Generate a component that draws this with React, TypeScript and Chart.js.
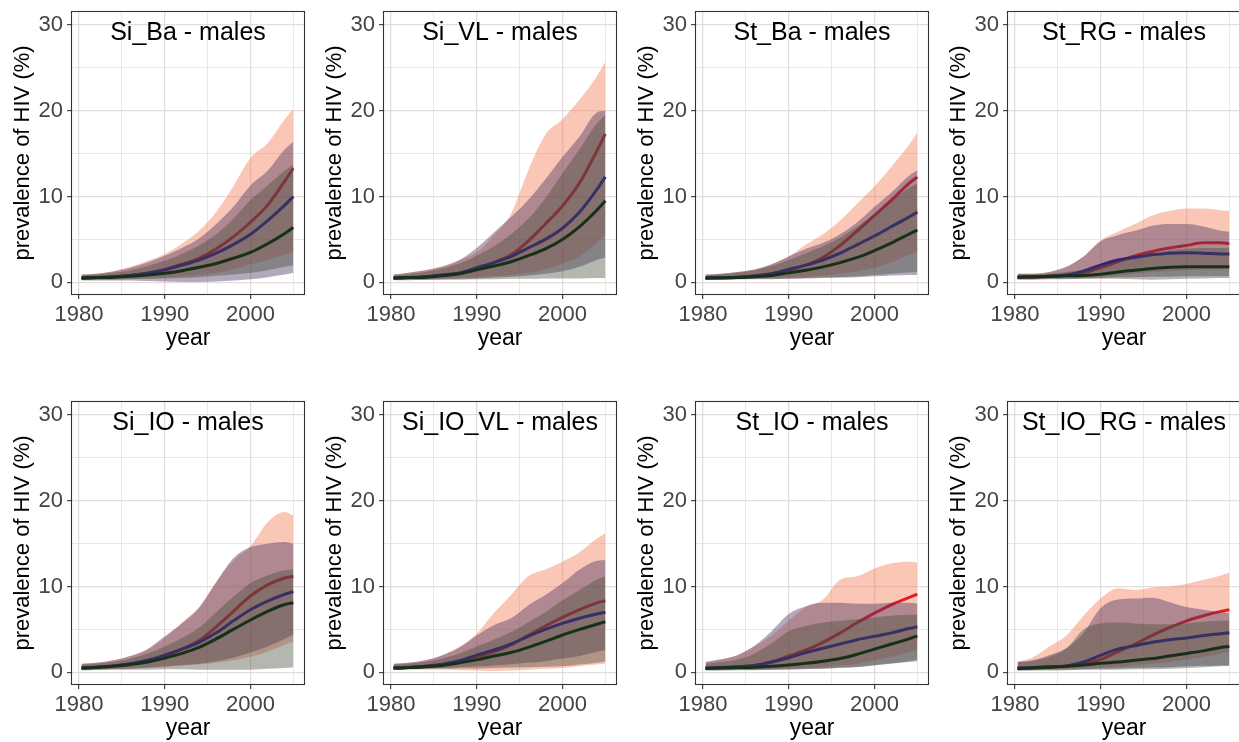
import React, { useEffect, useRef } from 'react';
import { Chart, registerables } from 'chart.js';

Chart.register(...registerables);

// ---------- data ----------
const years = [1980.3, 1982, 1984, 1986, 1988, 1990, 1992, 1994, 1996, 1998, 2000, 2002, 2004, 2005];

const xTickValues = [1980, 1985, 1990, 1995, 2000, 2005];
const xTickLabels = ['1980', '', '1990', '', '2000', ''];
const yTickValues = [0, 5, 10, 15, 20, 25, 30];
const yTickLabels = ['0', '', '10', '', '20', '', '30'];

// Si_Ba
const siBaRed = [0.5, 0.55, 0.65, 0.8, 1.05, 1.5, 2.1, 2.8, 3.9, 5.3, 7.0, 9.0, 11.8, 13.3];
const siBaRedLo = [0.3, 0.3, 0.35, 0.4, 0.45, 0.55, 0.7, 0.85, 1.1, 1.5, 2.1, 2.6, 3.2, 3.6];
const siBaRedHi = [0.9, 1.0, 1.3, 1.8, 2.5, 3.3, 4.5, 6.0, 8.2, 11.2, 14.5, 16.2, 19.0, 20.2];
const siBaBlue = [0.5, 0.55, 0.65, 0.8, 1.05, 1.45, 2.0, 2.6, 3.4, 4.4, 5.6, 7.2, 9.0, 10.0];
const siBaBlueLo = [0.2, 0.2, 0.2, 0.2, 0.15, 0.1, 0.05, 0.05, 0.1, 0.2, 0.35, 0.6, 0.9, 1.1];
const siBaBlueHi = [0.9, 1.0, 1.25, 1.7, 2.3, 3.1, 4.0, 5.1, 6.8, 8.8, 11.3, 13.0, 15.5, 16.4];
const siBaGreen = [0.5, 0.55, 0.6, 0.7, 0.85, 1.05, 1.35, 1.75, 2.2, 2.8, 3.5, 4.5, 5.7, 6.4];
const siBaGreenLo = [0.3, 0.3, 0.3, 0.35, 0.4, 0.45, 0.5, 0.6, 0.75, 0.9, 1.1, 1.4, 1.8, 2.0];
const siBaGreenHi = [0.8, 0.9, 1.1, 1.4, 1.9, 2.5, 3.3, 4.3, 5.6, 7.4, 9.6, 11.3, 13.0, 13.7];

// Si_VL
const siVlRed = [0.5, 0.55, 0.65, 0.85, 1.1, 1.6, 2.3, 3.2, 4.8, 6.8, 8.9, 11.6, 15.3, 17.3];
const siVlRedLo = [0.3, 0.35, 0.35, 0.4, 0.5, 0.6, 0.7, 0.85, 1.1, 1.5, 2.2, 3.0, 4.6, 5.6];
const siVlRedHi = [0.9, 1.1, 1.4, 1.9, 2.6, 3.5, 5.5, 8.0, 13.0, 17.2, 19.0, 21.3, 24.0, 25.7];
const siVlBlue = [0.5, 0.55, 0.65, 0.85, 1.1, 1.7, 2.3, 3.0, 4.0, 5.0, 6.3, 8.2, 10.8, 12.3];
const siVlBlueLo = [0.3, 0.3, 0.3, 0.35, 0.4, 0.45, 0.55, 0.65, 0.8, 1.0, 1.3, 1.8, 2.6, 2.9];
const siVlBlueHi = [0.9, 1.1, 1.4, 1.8, 2.6, 4.0, 5.8, 7.6, 9.6, 12.0, 14.6, 17.0, 19.8, 20.0];
const siVlGreen = [0.5, 0.55, 0.6, 0.75, 1.0, 1.45, 1.9, 2.4, 3.1, 3.9, 5.0, 6.5, 8.4, 9.5];
const siVlGreenLo = [0.25, 0.25, 0.3, 0.3, 0.3, 0.35, 0.35, 0.4, 0.4, 0.45, 0.45, 0.45, 0.5, 0.5];
const siVlGreenHi = [0.8, 0.95, 1.2, 1.6, 2.2, 3.1, 4.2, 5.6, 7.4, 9.8, 12.7, 15.5, 18.5, 19.5];

// St_Ba
const stBaRed = [0.5, 0.55, 0.6, 0.75, 1.0, 1.4, 2.0, 2.9, 4.3, 6.0, 7.8, 9.6, 11.5, 12.3];
const stBaRedLo = [0.35, 0.35, 0.4, 0.45, 0.5, 0.55, 0.65, 0.8, 1.0, 1.3, 1.7, 2.3, 3.2, 3.6];
const stBaRedHi = [0.9, 1.0, 1.2, 1.5, 2.1, 3.0, 4.4, 5.6, 7.2, 9.2, 11.2, 13.5, 16.0, 17.4];
const stBaBlue = [0.5, 0.55, 0.6, 0.75, 1.0, 1.5, 2.0, 2.6, 3.4, 4.4, 5.4, 6.5, 7.6, 8.2];
const stBaBlueLo = [0.3, 0.3, 0.35, 0.35, 0.35, 0.4, 0.45, 0.5, 0.55, 0.6, 0.7, 0.8, 0.85, 0.85];
const stBaBlueHi = [0.9, 1.0, 1.2, 1.5, 2.1, 3.0, 3.9, 4.6, 5.6, 7.0, 8.8, 10.5, 12.4, 13.1];
const stBaGreen = [0.5, 0.5, 0.55, 0.65, 0.8, 1.1, 1.4, 1.8, 2.3, 2.9, 3.7, 4.6, 5.6, 6.1];
const stBaGreenLo = [0.3, 0.3, 0.35, 0.4, 0.4, 0.45, 0.5, 0.55, 0.6, 0.7, 0.85, 1.0, 1.15, 1.2];
const stBaGreenHi = [0.8, 0.9, 1.1, 1.4, 1.9, 2.6, 3.4, 4.2, 5.2, 6.5, 8.0, 9.5, 11.0, 11.5];

// St_RG
const stRgRed = [0.6, 0.6, 0.7, 0.8, 1.1, 1.7, 2.4, 3.1, 3.6, 4.0, 4.3, 4.6, 4.6, 4.5];
const stRgRedLo = [0.4, 0.4, 0.45, 0.5, 0.55, 0.65, 0.8, 1.0, 1.2, 1.3, 1.4, 1.5, 1.5, 1.5];
const stRgRedHi = [1.0, 1.0, 1.2, 1.8, 3.0, 4.9, 5.9, 6.8, 7.8, 8.3, 8.6, 8.6, 8.4, 8.3];
const stRgBlue = [0.6, 0.65, 0.7, 0.85, 1.3, 2.0, 2.6, 2.9, 3.2, 3.4, 3.45, 3.4, 3.3, 3.3];
const stRgBlueLo = [0.35, 0.35, 0.4, 0.4, 0.45, 0.5, 0.55, 0.6, 0.65, 0.65, 0.7, 0.7, 0.7, 0.7];
const stRgBlueHi = [1.0, 1.0, 1.2, 1.8, 3.0, 4.8, 5.5, 6.0, 6.6, 6.8, 6.8, 6.5, 6.0, 5.9];
const stRgGreen = [0.6, 0.65, 0.7, 0.75, 0.8, 0.95, 1.2, 1.4, 1.6, 1.75, 1.8, 1.8, 1.8, 1.8];
const stRgGreenLo = [0.3, 0.3, 0.35, 0.35, 0.4, 0.4, 0.4, 0.35, 0.3, 0.35, 0.4, 0.45, 0.5, 0.5];
const stRgGreenHi = [0.9, 0.9, 1.0, 1.2, 1.5, 2.0, 2.5, 3.0, 3.4, 3.7, 3.9, 4.0, 4.0, 4.0];

// Si_IO
const siIoRed = [0.5, 0.6, 0.75, 0.95, 1.3, 1.9, 2.7, 3.7, 5.3, 7.1, 8.9, 10.2, 11.0, 11.2];
const siIoRedLo = [0.3, 0.3, 0.35, 0.4, 0.5, 0.6, 0.75, 0.9, 1.1, 1.4, 1.8, 2.4, 3.2, 3.6];
const siIoRedHi = [1.0, 1.1, 1.4, 1.9, 2.7, 4.0, 5.8, 7.6, 10.5, 13.0, 14.7, 17.5, 18.7, 18.3];
const siIoBlue = [0.5, 0.6, 0.75, 1.0, 1.4, 2.0, 2.7, 3.5, 4.6, 6.0, 7.3, 8.3, 9.1, 9.4];
const siIoBlueLo = [0.3, 0.35, 0.4, 0.45, 0.55, 0.7, 0.85, 1.0, 1.3, 1.7, 2.3, 3.0, 3.9, 4.4];
const siIoBlueHi = [1.0, 1.1, 1.4, 1.9, 2.7, 4.2, 5.7, 7.5, 10.5, 13.3, 14.6, 15.0, 15.2, 15.0];
const siIoGreen = [0.5, 0.55, 0.7, 0.9, 1.2, 1.65, 2.2, 2.9, 3.9, 5.0, 6.1, 7.1, 7.9, 8.1];
const siIoGreenLo = [0.25, 0.25, 0.3, 0.3, 0.3, 0.35, 0.35, 0.3, 0.3, 0.3, 0.3, 0.4, 0.5, 0.6];
const siIoGreenHi = [0.9, 1.0, 1.2, 1.6, 2.2, 3.0, 4.0, 5.2, 7.0, 8.8, 10.4, 11.3, 11.9, 12.0];

// Si_IO_VL
const siIoVlRed = [0.5, 0.55, 0.7, 0.9, 1.25, 1.8, 2.4, 3.2, 4.3, 5.4, 6.4, 7.3, 8.1, 8.35];
const siIoVlRedLo = [0.3, 0.3, 0.3, 0.3, 0.25, 0.2, 0.15, 0.2, 0.3, 0.4, 0.5, 0.7, 0.9, 1.0];
const siIoVlRedHi = [1.0, 1.1, 1.4, 2.0, 3.0, 4.5, 6.9, 9.0, 11.2, 12.0, 12.9, 14.0, 15.6, 16.2];
const siIoVlBlue = [0.5, 0.55, 0.7, 0.95, 1.35, 2.0, 2.6, 3.3, 4.2, 5.0, 5.7, 6.3, 6.8, 7.0];
const siIoVlBlueLo = [0.4, 0.4, 0.45, 0.5, 0.6, 0.7, 0.8, 0.95, 1.1, 1.3, 1.6, 1.9, 2.4, 2.6];
const siIoVlBlueHi = [1.0, 1.1, 1.4, 2.0, 2.9, 4.3, 5.5, 6.3, 7.8, 9.0, 10.4, 12.0, 13.0, 13.1];
const siIoVlGreen = [0.5, 0.55, 0.65, 0.8, 1.1, 1.45, 1.9, 2.3, 2.9, 3.6, 4.35, 5.0, 5.6, 5.9];
const siIoVlGreenLo = [0.35, 0.35, 0.4, 0.4, 0.45, 0.45, 0.5, 0.55, 0.6, 0.65, 0.7, 0.9, 1.1, 1.25];
const siIoVlGreenHi = [0.9, 1.0, 1.2, 1.6, 2.2, 3.0, 3.8, 4.7, 5.8, 7.0, 8.4, 9.6, 10.8, 11.2];

// St_IO
const stIoRed = [0.5, 0.55, 0.65, 0.8, 1.2, 1.9, 2.6, 3.5, 4.6, 5.8, 6.9, 7.9, 8.7, 9.1];
const stIoRedLo = [0.3, 0.3, 0.3, 0.3, 0.35, 0.4, 0.5, 0.6, 0.8, 1.0, 1.4, 1.8, 2.3, 2.6];
const stIoRedHi = [1.2, 1.5, 2.0, 3.0, 4.3, 6.0, 7.6, 8.5, 10.8, 11.2, 12.1, 12.7, 12.9, 12.8];
const stIoBlue = [0.5, 0.55, 0.65, 0.8, 1.2, 1.7, 2.3, 2.8, 3.3, 3.8, 4.2, 4.6, 5.1, 5.3];
const stIoBlueLo = [0.25, 0.25, 0.3, 0.3, 0.3, 0.35, 0.4, 0.45, 0.55, 0.65, 0.85, 1.05, 1.3, 1.45];
const stIoBlueHi = [1.2, 1.5, 2.0, 3.1, 4.8, 6.8, 7.7, 8.1, 8.1, 8.0, 8.0, 8.1, 8.1, 8.0];
const stIoGreen = [0.45, 0.5, 0.55, 0.6, 0.7, 0.85, 1.05, 1.3, 1.6, 2.1, 2.7, 3.3, 3.9, 4.25];
const stIoGreenLo = [0.2, 0.2, 0.25, 0.25, 0.3, 0.3, 0.35, 0.4, 0.5, 0.6, 0.8, 1.0, 1.2, 1.3];
const stIoGreenHi = [1.0, 1.2, 1.5, 2.2, 3.4, 4.8, 5.4, 5.8, 6.0, 6.2, 6.4, 6.6, 6.7, 6.7];

// St_IO_RG
const stIoRgRed = [0.5, 0.55, 0.65, 0.75, 1.0, 1.5, 2.4, 3.3, 4.3, 5.2, 6.0, 6.6, 7.1, 7.3];
const stIoRgRedLo = [0.3, 0.3, 0.35, 0.4, 0.45, 0.55, 0.65, 0.8, 1.0, 1.2, 1.5, 1.8, 2.2, 2.4];
const stIoRgRedHi = [1.25, 1.7, 3.0, 4.3, 6.6, 8.6, 9.8, 9.6, 9.9, 10.0, 10.3, 10.8, 11.3, 11.6];
const stIoRgBlue = [0.5, 0.55, 0.65, 0.75, 1.2, 2.0, 2.7, 3.1, 3.5, 3.8, 4.0, 4.3, 4.5, 4.6];
const stIoRgBlueLo = [0.25, 0.25, 0.3, 0.3, 0.35, 0.4, 0.45, 0.5, 0.55, 0.6, 0.7, 0.75, 0.8, 0.8];
const stIoRgBlueHi = [1.2, 1.4, 2.0, 2.8, 4.6, 7.5, 8.5, 8.6, 8.7, 8.2, 7.6, 7.3, 7.0, 6.9];
const stIoRgGreen = [0.4, 0.5, 0.6, 0.7, 0.85, 1.05, 1.2, 1.4, 1.6, 1.9, 2.2, 2.5, 2.9, 3.0];
const stIoRgGreenLo = [0.2, 0.2, 0.2, 0.25, 0.3, 0.3, 0.3, 0.35, 0.35, 0.4, 0.5, 0.6, 0.7, 0.75];
const stIoRgGreenHi = [1.2, 1.3, 1.8, 2.8, 5.0, 5.7, 5.8, 5.7, 5.6, 5.6, 5.7, 5.9, 6.0, 6.0];

const panelTitles = [
  'Si_Ba - males', 'Si_VL - males', 'St_Ba - males', 'St_RG - males',
  'Si_IO - males', 'Si_IO_VL - males', 'St_IO - males', 'St_IO_RG - males',
];

const panelSeries = [
  { red: siBaRed, redLo: siBaRedLo, redHi: siBaRedHi, blue: siBaBlue, blueLo: siBaBlueLo, blueHi: siBaBlueHi, green: siBaGreen, greenLo: siBaGreenLo, greenHi: siBaGreenHi },
  { red: siVlRed, redLo: siVlRedLo, redHi: siVlRedHi, blue: siVlBlue, blueLo: siVlBlueLo, blueHi: siVlBlueHi, green: siVlGreen, greenLo: siVlGreenLo, greenHi: siVlGreenHi },
  { red: stBaRed, redLo: stBaRedLo, redHi: stBaRedHi, blue: stBaBlue, blueLo: stBaBlueLo, blueHi: stBaBlueHi, green: stBaGreen, greenLo: stBaGreenLo, greenHi: stBaGreenHi },
  { red: stRgRed, redLo: stRgRedLo, redHi: stRgRedHi, blue: stRgBlue, blueLo: stRgBlueLo, blueHi: stRgBlueHi, green: stRgGreen, greenLo: stRgGreenLo, greenHi: stRgGreenHi },
  { red: siIoRed, redLo: siIoRedLo, redHi: siIoRedHi, blue: siIoBlue, blueLo: siIoBlueLo, blueHi: siIoBlueHi, green: siIoGreen, greenLo: siIoGreenLo, greenHi: siIoGreenHi },
  { red: siIoVlRed, redLo: siIoVlRedLo, redHi: siIoVlRedHi, blue: siIoVlBlue, blueLo: siIoVlBlueLo, blueHi: siIoVlBlueHi, green: siIoVlGreen, greenLo: siIoVlGreenLo, greenHi: siIoVlGreenHi },
  { red: stIoRed, redLo: stIoRedLo, redHi: stIoRedHi, blue: stIoBlue, blueLo: stIoBlueLo, blueHi: stIoBlueHi, green: stIoGreen, greenLo: stIoGreenLo, greenHi: stIoGreenHi },
  { red: stIoRgRed, redLo: stIoRgRedLo, redHi: stIoRgRedHi, blue: stIoRgBlue, blueLo: stIoRgBlueLo, blueHi: stIoRgBlueHi, green: stIoRgGreen, greenLo: stIoRgGreenLo, greenHi: stIoRgGreenHi },
];

// ---------- styles ----------
const FONT = "'Liberation Sans', Arial, Helvetica, sans-serif";
const X_MIN = 1979.07;
const X_MAX = 2006.36;
const Y_MIN = -1.48;
const Y_MAX = 31.63;
const GRID = '#E4DCDC';
const TICK_TEXT = '#444444';
const PANEL_W = 312;
const PANEL_H = 390;

const RED_BAND = 'rgba(243, 120, 80, 0.42)';
const RED_LINE = 'rgb(226, 32, 32)';
const BLUE_BAND = 'rgba(75, 50, 95, 0.42)';
const BLUE_LINE = 'rgb(48, 30, 128)';
const GREEN_BAND = 'rgba(68, 75, 57, 0.40)';
const GREEN_LINE = 'rgb(22, 48, 25)';

const framePlugin = {
  id: 'frame',
  beforeDatasetsDraw(chart: any, _args: any, opts: any) {
    const { ctx, chartArea } = chart;
    ctx.save();
    ctx.font = `25px ${FONT}`;
    ctx.fillStyle = '#000';
    ctx.textAlign = 'center';
    ctx.textBaseline = 'alphabetic';
    ctx.fillText(opts.text || '', (chartArea.left + chartArea.right) / 2, chartArea.top + 28.5);
    ctx.restore();
  },
  afterDatasetsDraw(chart: any) {
    const { ctx, chartArea } = chart;
    ctx.save();
    ctx.strokeStyle = '#333333';
    ctx.lineWidth = 1.1;
    ctx.strokeRect(chartArea.left + 0.5, chartArea.top + 0.5, chartArea.right - chartArea.left - 1, chartArea.bottom - chartArea.top - 1);
    ctx.restore();
  },
};

function toPoints(arr: number[]) {
  return arr.map((v, i) => ({ x: years[i], y: v }));
}

function PanelChart({ index }: { index: number }) {
  const ref = useRef<HTMLCanvasElement | null>(null);
  useEffect(() => {
    const s = panelSeries[index];
    const lo = (arr: number[], order: number) => ({
      data: toPoints(arr), borderWidth: 0, borderColor: 'rgba(0,0,0,0)', pointRadius: 0, fill: false,
      cubicInterpolationMode: 'monotone', order,
    });
    const hi = (arr: number[], color: string, order: number) => ({
      data: toPoints(arr), borderWidth: 0, borderColor: 'rgba(0,0,0,0)', pointRadius: 0, fill: '-1',
      backgroundColor: color, cubicInterpolationMode: 'monotone', order,
    });
    const line = (arr: number[], color: string, order: number) => ({
      data: toPoints(arr), borderWidth: 3, borderColor: color, pointRadius: 0, fill: false,
      cubicInterpolationMode: 'monotone', order,
    });
    const chart = new Chart(ref.current as HTMLCanvasElement, {
      type: 'line',
      data: {
        datasets: [
          lo(s.redLo, 9), hi(s.redHi, RED_BAND, 8), line(s.red, RED_LINE, 7),
          lo(s.blueLo, 6), hi(s.blueHi, BLUE_BAND, 5), line(s.blue, BLUE_LINE, 4),
          lo(s.greenLo, 3), hi(s.greenHi, GREEN_BAND, 2), line(s.green, GREEN_LINE, 1),
        ] as any,
      },
      options: {
        responsive: false,
        animation: false,
        devicePixelRatio: 1,
        events: [],
        layout: { padding: { top: 11, right: 7, left: 0, bottom: 0 } },
        plugins: {
          legend: { display: false },
          tooltip: { enabled: false },
          title: { display: false },
          frame: { text: panelTitles[index] },
        } as any,
        scales: {
          x: {
            type: 'linear',
            min: X_MIN,
            max: X_MAX,
            afterBuildTicks: (sc: any) => { sc.ticks = xTickValues.map((v) => ({ value: v })); },
            afterFit: (sc: any) => { sc.height = 95; sc.paddingLeft = 0; sc.paddingRight = 0; },
            ticks: {
              autoSkip: false, maxRotation: 0, minRotation: 0, padding: 3, color: TICK_TEXT,
              font: { family: FONT, size: 22 },
              callback: (_v: any, i: number) => xTickLabels[i],
            },
            grid: {
              color: GRID,
              lineWidth: (c: any) => (c.tick && c.tick.value % 10 === 0 ? 1.3 : 0.7),
              drawTicks: true, tickLength: 4, tickWidth: 1.1,
              tickColor: (c: any) => (c.tick && c.tick.value % 10 === 0 ? '#333333' : 'rgba(0,0,0,0)'),
            },
            border: { display: false },
            title: { display: true, text: 'year', color: '#000', font: { family: FONT, size: 23 }, padding: { top: 0, bottom: 38 } },
          },
          y: {
            type: 'linear',
            min: Y_MIN,
            max: Y_MAX,
            afterBuildTicks: (sc: any) => { sc.ticks = yTickValues.map((v) => ({ value: v })); },
            afterFit: (sc: any) => { sc.width = 71; sc.paddingTop = 0; sc.paddingBottom = 0; },
            ticks: {
              autoSkip: false, padding: 4, color: TICK_TEXT,
              font: { family: FONT, size: 22 },
              callback: (_v: any, i: number) => yTickLabels[i],
            },
            grid: {
              color: GRID,
              lineWidth: (c: any) => (c.tick && c.tick.value % 10 === 0 ? 1.3 : 0.7),
              drawTicks: true, tickLength: 4, tickWidth: 1.1,
              tickColor: (c: any) => (c.tick && c.tick.value % 10 === 0 ? '#333333' : 'rgba(0,0,0,0)'),
            },
            border: { display: false },
            title: { display: true, text: 'prevalence of HIV (%)', color: '#000', font: { family: FONT, size: 22 }, padding: { top: 10, bottom: 0 } },
          },
        },
      } as any,
      plugins: [framePlugin],
    });
    return () => chart.destroy();
  }, [index]);
  const col = index % 4;
  const row = Math.floor(index / 4);
  return (
    <div style={{ position: 'absolute', left: col * PANEL_W, top: row * PANEL_H, width: PANEL_W, height: PANEL_H }}>
      <canvas ref={ref} width={PANEL_W} height={PANEL_H} style={{ width: PANEL_W, height: PANEL_H, display: 'block' }} />
    </div>
  );
}

export default function App() {
  return (
    <div style={{ position: 'fixed', left: 0, top: 0, width: 1239, height: 742, overflow: 'hidden', background: '#ffffff' }}>
      {panelTitles.map((_t, i) => (
        <PanelChart key={i} index={i} />
      ))}
    </div>
  );
}
